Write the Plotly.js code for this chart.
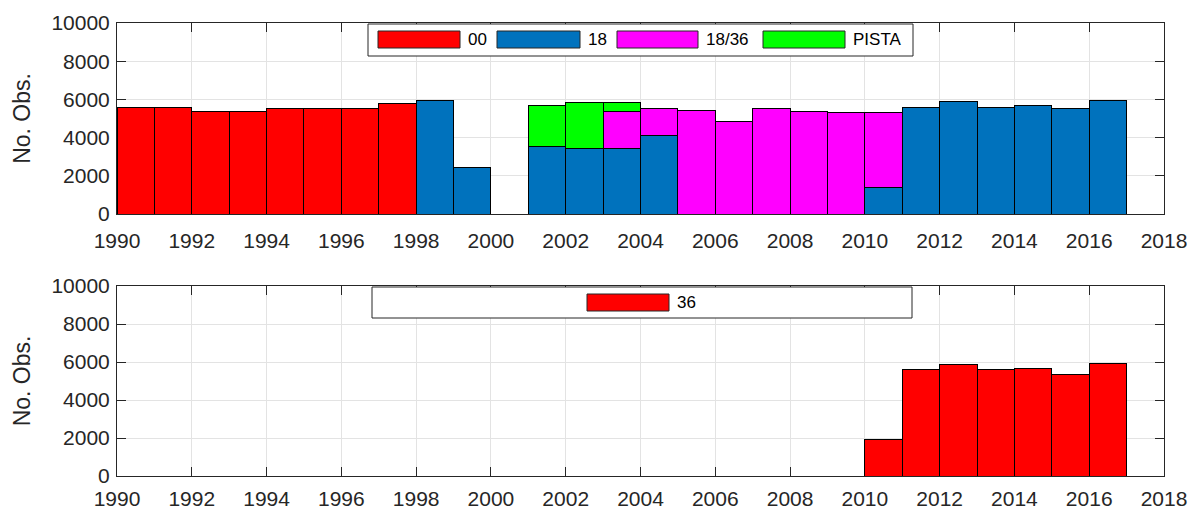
<!DOCTYPE html>
<html>
<head>
<meta charset="utf-8">
<script src="https://cdn.plot.ly/plotly-3.0.1.min.js"></script>
<style>html,body{margin:0;padding:0;background:#fff;}#chart{width:1191px;height:513px;}</style>
</head>
<body>
<div id="chart"></div>
<script>
// Years (each bar spans year .. year+1)
const years = [1990,1991,1992,1993,1994,1995,1996,1997,1998,1999,2000,2001,2002,2003,2004,2005,2006,2007,2008,2009,2010,2011,2012,2013,2014,2015,2016];

// Top panel series (stacked)
const seriesNamesTop = ['00', '18', '18/36', 'PISTA'];
const s00    = [5560,5560,5390,5390,5550,5510,5550,5770,0,0,0,0,0,0,0,0,0,0,0,0,0,0,0,0,0,0,0];
const s18    = [0,0,0,0,0,0,0,0,5950,2430,0,3510,3410,3410,4090,0,0,0,0,0,1410,5600,5900,5600,5670,5550,5950];
const s1836  = [0,0,0,0,0,0,0,0,0,0,0,0,0,1960,1410,5440,4820,5550,5370,5320,3890,0,0,0,0,0,0];
const sPISTA = [0,0,0,0,0,0,0,0,0,0,0,2190,2420,470,0,0,0,0,0,0,0,0,0,0,0,0,0];

// Bottom panel series
const seriesNamesBottom = ['36'];
const s36    = [0,0,0,0,0,0,0,0,0,0,0,0,0,0,0,0,0,0,0,0,1940,5600,5880,5600,5670,5320,5930];

const xTickVals = [1990,1992,1994,1996,1998,2000,2002,2004,2006,2008,2010,2012,2014,2016,2018];

const colorsTop = ['#ff0000', '#0072bd', '#ff00ff', '#00ff00'];
const colorBottom = '#ff0000';

const W = 1191, H = 513;
const px = v => v / W;
const py = v => 1 - v / H;

const xc = years.map(y => y + 0.5);

function barTrace(vals, name, color, xa, ya) {
  return {
    type: 'bar', x: xc, y: vals, name: name, width: 1,
    xaxis: xa, yaxis: ya,
    marker: {color: color, line: {color: '#000', width: 1}},
    showlegend: false, hoverinfo: 'x+y+name'
  };
}

const topVals = [s00, s18, s1836, sPISTA];
const data = topVals.map((v, i) => barTrace(v, seriesNamesTop[i], colorsTop[i], 'x', 'y'));
data.push(barTrace(s36, seriesNamesBottom[0], colorBottom, 'x2', 'y2'));

const font = {family: 'Liberation Sans, Arial, sans-serif', size: 21, color: '#262626'};

function xaxis(dom, anchor, standoff) {
  return {
    domain: dom, anchor: anchor, range: [1990, 2018], tickvals: xTickVals, tickformat: 'd',
    ticks: 'inside', ticklen: 9, tickcolor: '#262626', tickwidth: 1,
    showline: true, linecolor: '#262626', linewidth: 1, mirror: 'allticks',
    showgrid: true, gridcolor: '#e3e3e3', zeroline: false,
    tickfont: font, ticklabelstandoff: standoff, layer: 'below traces', fixedrange: true
  };
}
function yaxis(dom, anchor) {
  return {
    domain: dom, anchor: anchor, range: [0, 10000], dtick: 2000, tick0: 0, tickformat: 'd',
    ticks: 'inside', ticklen: 9, tickcolor: '#262626', tickwidth: 1,
    showline: true, linecolor: '#262626', linewidth: 1, mirror: 'allticks',
    showgrid: true, gridcolor: '#e3e3e3', zeroline: false,
    tickfont: font, ticklabelstandoff: 2, layer: 'below traces', fixedrange: true,
    title: {text: 'No. Obs.', font: {family: font.family, size: 23, color: '#262626'}, standoff: 14}
  };
}

const xDom = [px(117), px(1164)];
const shapes = [];
const annotations = [];

// Custom legends (MATLAB-style wide swatches)
function legendBox(x0, x1, y0, y1) {
  shapes.push({type: 'rect', xref: 'paper', yref: 'paper', x0: px(x0), x1: px(x1), y0: py(y1), y1: py(y0),
    line: {color: '#262626', width: 1}, fillcolor: '#ffffff', layer: 'above'});
}
function legendItem(x0, x1, y0, y1, color, label) {
  shapes.push({type: 'rect', xref: 'paper', yref: 'paper', x0: px(x0), x1: px(x1), y0: py(y1), y1: py(y0),
    line: {color: '#262626', width: 1}, fillcolor: color, layer: 'above'});
  annotations.push({xref: 'paper', yref: 'paper', x: px(x1 + 6), y: py((y0 + y1) / 2), text: label,
    showarrow: false, xanchor: 'left', yanchor: 'middle',
    font: {family: font.family, size: 17, color: '#000'}});
}

legendBox(368, 913, 24, 56);
const topLegendX = [[378, 460], [497, 580], [617, 698], [763, 845]];
seriesNamesTop.forEach((n, i) => legendItem(topLegendX[i][0], topLegendX[i][1], 31, 48, colorsTop[i], n));

legendBox(372, 912, 287, 318);
legendItem(587, 669, 294, 311, colorBottom, seriesNamesBottom[0]);

const layout = {
  width: W, height: H,
  margin: {l: 0, r: 0, t: 0, b: 0},
  paper_bgcolor: '#ffffff', plot_bgcolor: '#ffffff',
  barmode: 'stack', bargap: 0,
  font: font,
  xaxis: xaxis(xDom, 'y', 8),
  yaxis: yaxis([py(214), py(23)], 'x'),
  xaxis2: xaxis(xDom, 'y2', 4),
  yaxis2: yaxis([py(476), py(286)], 'x2'),
  shapes: shapes,
  annotations: annotations
};

Plotly.newPlot('chart', data, layout, {displayModeBar: false, staticPlot: true});
</script>
</body>
</html>
